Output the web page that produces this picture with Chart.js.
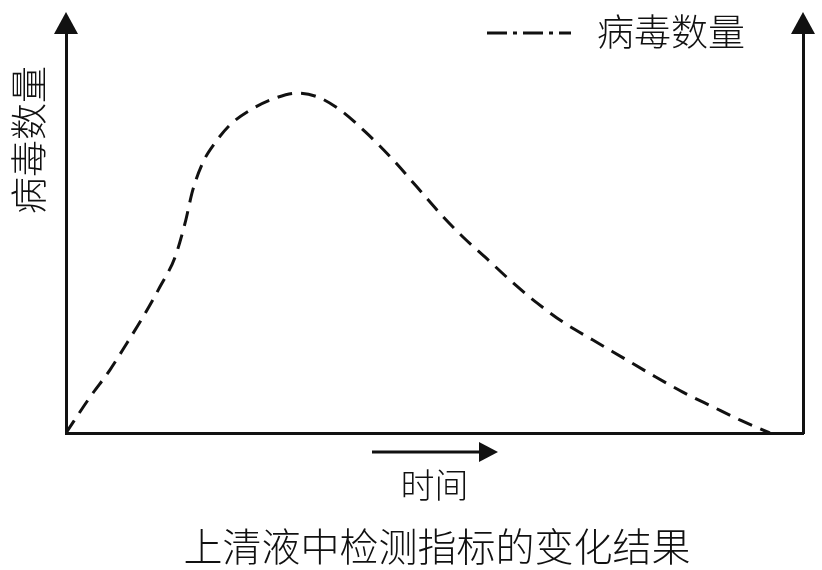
<!DOCTYPE html>
<html>
<head>
<meta charset="utf-8">
<title>上清液中检测指标的变化结果</title>
<script src="https://cdn.jsdelivr.net/npm/chart.js@4/dist/chart.umd.min.js"></script>
<style>
    html, body { margin: 0; padding: 0; background: #fff; }
    #wrap { width: 822px; height: 570px; position: relative; }
</style>
</head>
<body>
<div id="wrap"><canvas id="myChart"></canvas></div>
<script>
// values (time and virus count on a 0-100 scale)
const timePoints = [0, 3.26, 5.97, 8.28, 10.45, 12.75, 14.8, 16.15, 17.2, 18.6, 20.2, 22.25, 25.0, 28.4, 31.3,
    34.1, 37.2, 40.8, 44.4, 47.6, 51.2, 53.9, 57.1, 60.5, 63.9, 67.4, 71.5, 75.6, 79.6, 83.7, 87.8, 91.5, 95.5];
const virusCounts = [0, 8.7, 15.3, 21.8, 28.1, 35.4, 42.6, 50.8, 58.8, 65.6, 70.2, 74.6, 78.2, 81.1, 82.3,
    81.4, 78.2, 72.6, 66.1, 59.6, 52.3, 47.4, 42.2, 36.6, 31.5, 26.9, 22.5, 18.2, 14.0, 9.9, 6.3, 3.1, 0];

const seriesName = '病毒数量';
const xAxisTitle = '时间';
const yAxisTitle = '病毒数量';
const chartTitle = '上清液中检测指标的变化结果';

const ink = '#111';
const cjk = '"Noto Sans CJK SC", "Noto Sans", sans-serif';
Chart.defaults.font.family = cjk;
Chart.defaults.color = ink;

function arrowHead(ctx, tipX, tipY, dir, len, half) {
    ctx.beginPath();
    if (dir === 'up') {
        ctx.moveTo(tipX, tipY);
        ctx.lineTo(tipX - half, tipY + len);
        ctx.lineTo(tipX + half, tipY + len);
    } else {
        ctx.moveTo(tipX, tipY);
        ctx.lineTo(tipX - len, tipY - half);
        ctx.lineTo(tipX - len, tipY + half);
    }
    ctx.closePath();
    ctx.fill();
}

// arrows, rotated y label and the dash-dot legend
const decorations = {
    id: 'decorations',
    afterDraw(chart) {
        const ctx = chart.ctx;
        const area = chart.chartArea;
        ctx.save();
        ctx.fillStyle = ink;
        ctx.strokeStyle = ink;

        arrowHead(ctx, area.left, 12, 'up', 22, 12);
        arrowHead(ctx, area.right, 12, 'up', 22, 12);

        // time direction arrow under the axis
        ctx.lineWidth = 3;
        ctx.beginPath();
        ctx.moveTo(372, 452);
        ctx.lineTo(482, 452);
        ctx.stroke();
        arrowHead(ctx, 498, 452, 'right', 19, 10);

        // y axis label
        ctx.save();
        ctx.translate(29, 140);
        ctx.rotate(-Math.PI / 2);
        ctx.font = '300 37px ' + cjk;
        ctx.textAlign = 'center';
        ctx.textBaseline = 'middle';
        ctx.fillText(yAxisTitle, 0, 0);
        ctx.restore();

        // legend
        ctx.lineWidth = 3;
        ctx.setLineDash([20, 6, 4, 6]);
        ctx.beginPath();
        ctx.moveTo(487, 33);
        ctx.lineTo(571, 33);
        ctx.stroke();
        ctx.setLineDash([]);
        ctx.font = '300 37px ' + cjk;
        ctx.textAlign = 'left';
        ctx.textBaseline = 'middle';
        ctx.fillText(chart.data.datasets[0].label, 597, 32);
        ctx.restore();
    }
};

new Chart(document.getElementById('myChart'), {
    type: 'line',
    data: {
        datasets: [{
            label: seriesName,
            data: timePoints.map((t, i) => ({ x: t, y: virusCounts[i] })),
            borderColor: ink,
            borderWidth: 3,
            borderDash: [15, 9],
            pointRadius: 0,
            fill: false,
            cubicInterpolationMode: 'monotone'
        }]
    },
    options: {
        responsive: true,
        maintainAspectRatio: false,
        animation: false,
        layout: { padding: { top: 20, left: 52, right: 0, bottom: 0 } },
        plugins: {
            legend: { display: false },
            tooltip: { enabled: false },
            title: {
                display: true,
                position: 'bottom',
                text: chartTitle,
                color: ink,
                font: { size: 39, weight: 300, lineHeight: 1.2 },
                padding: 0
            }
        },
        scales: {
            x: {
                type: 'linear',
                min: 0,
                max: 100,
                grid: { display: false },
                border: { display: true, color: ink, width: 3 },
                ticks: { display: false },
                title: {
                    display: true,
                    text: xAxisTitle,
                    color: ink,
                    font: { size: 34, weight: 300, lineHeight: 1.2 },
                    padding: { top: 0, bottom: 17.6 }
                },
                afterFit(scale) { scale.height = 90.2; }
            },
            y: {
                position: 'left',
                min: 0,
                max: 100,
                grid: { display: false },
                border: { display: true, color: ink, width: 3 },
                ticks: { display: false },
                afterFit(scale) { scale.width = 14; }
            },
            y2: {
                position: 'right',
                min: 0,
                max: 100,
                grid: { display: false },
                border: { display: true, color: ink, width: 3 },
                ticks: { display: false },
                afterFit(scale) { scale.width = 19; }
            }
        }
    },
    plugins: [decorations]
});
</script>
</body>
</html>
